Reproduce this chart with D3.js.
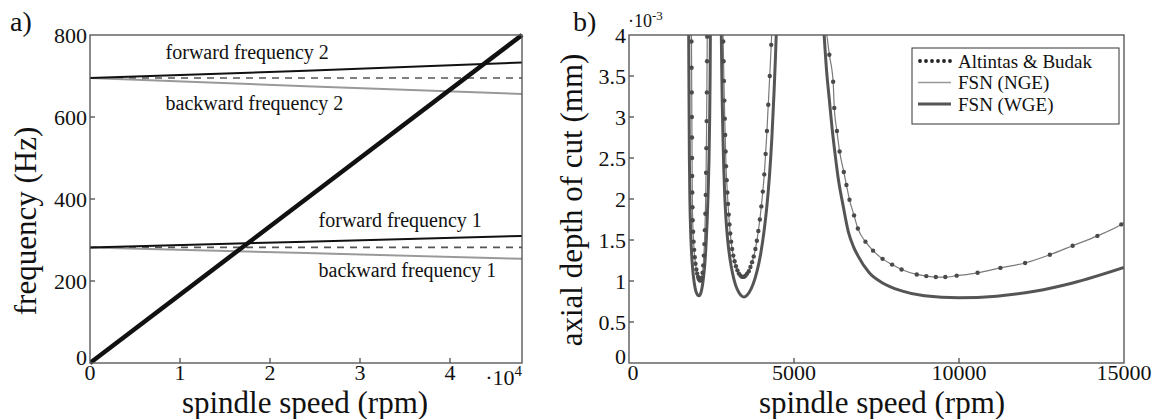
<!DOCTYPE html>
<html>
<head>
<meta charset="utf-8">
<script src="https://cdn.jsdelivr.net/npm/d3@7"></script>
<style>
  html, body { margin: 0; padding: 0; background: #fff; }
  svg { display: block; }
</style>
</head>
<body>
<svg id="chart" width="1153" height="419" font-family="'Liberation Serif', 'Times New Roman', Tinos, 'DejaVu Serif', serif"></svg>
<script>
// ---------------- Panel a data ----------------
const aSpeedTicks = [0, 10000, 20000, 30000, 40000];
const aSpeedTickLabels = ["0", "1", "2", "3", "4"];
const aFreqTicks = [0, 200, 400, 600, 800];
const syncSpeed = [0, 48000];
const syncFreq = [0, 800];
const modeSpeed = [0, 24000, 48000];
const forward2 = [695, 713, 733];
const backward2 = [695, 675, 656];
const nominal2 = [695, 695, 695];
const forward1 = [282, 296, 310];
const backward1 = [282, 268, 254];
const nominal1 = [282, 282, 282];
const modeLabels = ["forward frequency 2", "backward frequency 2", "forward frequency 1", "backward frequency 1"];
const modeLabelSpeed = [8400, 8400, 25400, 25400];
const modeLabelFreq = [741, 617, 332, 210];

// ---------------- Panel b data ----------------
const bSpeedTicks = [0, 5000, 10000, 15000];
const bDepthTicks = [0, 0.5, 1, 1.5, 2, 2.5, 3, 3.5, 4];
const bDepthTickLabels = ["0", "0.5", "1", "1.5", "2", "2.5", "3", "3.5", "4"];
// Altintas & Budak (markers); FSN (NGE) runs through the same points. depth in 1e-3 mm
const abLobe1Speed = [1880,1893,1897,1901,1905,1908,1911,1914,1917,1922,1930,1942,1957,1974,1993,2015,2040,2066,2093,2121,2150,2178,2205,2230,2250,2268,2285,2300,2314,2326,2336,2345,2353,2360,2366,2371];
const abLobe1Depth = [4.1,3.92,3.6,3.3,3.0,2.75,2.5,2.28,2.08,1.9,1.74,1.6,1.48,1.38,1.29,1.21,1.14,1.09,1.05,1.02,1.005,1.01,1.04,1.1,1.19,1.31,1.45,1.62,1.82,2.05,2.32,2.62,2.95,3.3,3.68,3.98];
const abLobe2Speed = [2845,2854,2866,2877,2889,2902,2915,2927,2939,2960,2980,3000,3022,3044,3068,3095,3125,3160,3200,3240,3285,3330,3380,3430,3480,3530,3580,3630,3680,3730,3780,3830,3875,3920,3965,4010,4055,4100,4140,4180,4220,4265,4310,4325];
const abLobe2Depth = [4.1,3.92,3.68,3.44,3.2,2.98,2.78,2.58,2.4,2.23,2.08,1.94,1.81,1.69,1.58,1.48,1.39,1.31,1.24,1.18,1.13,1.09,1.065,1.05,1.05,1.065,1.09,1.12,1.17,1.23,1.3,1.39,1.49,1.61,1.75,1.91,2.09,2.3,2.55,2.83,3.15,3.5,3.88,4.02];
const abLobe3Speed = [5980,6071,6186,6221,6301,6382,6509,6589,6682,6820,6935,7165,7396,7684,7972,8260,8721,9009,9297,9585,9930,10564,11255,12004,12753,13444,14193,14918];
const abLobe3Depth = [4.05,3.76,3.43,3.11,2.83,2.58,2.33,2.17,1.99,1.8,1.64,1.48,1.37,1.27,1.2,1.14,1.08,1.06,1.048,1.048,1.065,1.1,1.16,1.22,1.32,1.43,1.55,1.69];
const ngeLobe3EndSpeed = 15000;
const ngeLobe3EndDepth = 1.71;
// FSN (WGE)
const wgeLobe1Speed = [1808,1815,1822,1830,1845,1865,1895,1935,1980,2030,2080,2121,2165,2215,2260,2300,2335,2370,2400,2425,2445,2458,2467];
const wgeLobe1Depth = [4.1,3.5,3.0,2.5,2.0,1.65,1.35,1.12,0.97,0.87,0.83,0.82,0.84,0.92,1.05,1.22,1.45,1.75,2.1,2.5,3.0,3.5,4.1];
const wgeLobe2Speed = [2795,2810,2825,2845,2870,2900,2940,2990,3060,3140,3230,3330,3420,3475,3540,3640,3760,3880,3990,4090,4180,4260,4330,4395,4440,4470];
const wgeLobe2Depth = [4.1,3.6,3.2,2.8,2.4,2.05,1.75,1.5,1.27,1.09,0.95,0.86,0.815,0.805,0.815,0.86,0.96,1.12,1.33,1.6,1.92,2.3,2.75,3.3,3.75,4.1];
const wgeLobe3Speed = [5905,5990,6071,6150,6244,6359,6474,6647,6800,6935,7281,7684,8260,8951,9988,11140,12292,13444,15000];
const wgeLobe3Depth = [4.05,3.55,3.21,2.88,2.55,2.2,1.95,1.6,1.42,1.31,1.1,0.976,0.88,0.82,0.795,0.815,0.875,0.976,1.165];
const legendLabels = ["Altintas & Budak", "FSN (NGE)", "FSN (WGE)"];

// ---------------- drawing ----------------
const svg = d3.select("#chart");
const axisColor = "#5a5a5a";
const tickFont = 22;
const titleFont = 31;
const txtColor = "#111";

const pa = {l: 90, r: 522, t: 35, b: 363};
const pb = {l: 629, r: 1124, t: 35, b: 363};

function frame(p) {
  svg.append("rect").attr("x", p.l).attr("y", p.t).attr("width", p.r - p.l).attr("height", p.b - p.t)
    .attr("fill", "none").attr("stroke", axisColor).attr("stroke-width", 1.4);
}
function txt(g, x, y, s, size, anchor) {
  return g.append("text").attr("x", x).attr("y", y).attr("font-size", size)
    .attr("text-anchor", anchor || "start").attr("fill", txtColor).text(s);
}
function series(xs, ys) { return xs.map((x, i) => [x, ys[i]]); }

// ===== Panel a =====
const xa = d3.scaleLinear().domain([0, 48000]).range([pa.l, pa.r]);
const ya = d3.scaleLinear().domain([0, 800]).range([pa.b, pa.t]);
svg.append("clipPath").attr("id", "clipA").append("rect")
  .attr("x", pa.l).attr("y", pa.t - 2).attr("width", pa.r - pa.l + 2).attr("height", pa.b - pa.t + 4);
const ga = svg.append("g").attr("clip-path", "url(#clipA)");
const lineA = d3.line().x(d => xa(d[0])).y(d => ya(d[1]));

[nominal2, nominal1].forEach(v => ga.append("path").datum(series(modeSpeed, v)).attr("d", lineA)
  .attr("fill", "none").attr("stroke", "#555").attr("stroke-width", 1.6).attr("stroke-dasharray", "7,6"));
[backward2, backward1].forEach(v => ga.append("path").datum(series(modeSpeed, v)).attr("d", lineA)
  .attr("fill", "none").attr("stroke", "#999").attr("stroke-width", 2));
[forward2, forward1].forEach(v => ga.append("path").datum(series(modeSpeed, v)).attr("d", lineA)
  .attr("fill", "none").attr("stroke", "#111").attr("stroke-width", 2));
ga.append("path").datum(series(syncSpeed, syncFreq)).attr("d", lineA).attr("fill", "none")
  .attr("stroke", "#111").attr("stroke-width", 4.5);

modeLabels.forEach((t, i) => txt(svg, xa(modeLabelSpeed[i]), ya(modeLabelFreq[i]), t, 20));

frame(pa);
const axA = svg.append("g");
aSpeedTicks.forEach((v, i) => {
  if (i > 0) axA.append("line").attr("x1", xa(v)).attr("x2", xa(v)).attr("y1", pa.b).attr("y2", pa.b - 5)
    .attr("stroke", axisColor).attr("stroke-width", 1.4);
  txt(axA, xa(v), pa.b + 17, aSpeedTickLabels[i], tickFont, "middle");
});
aFreqTicks.forEach((v, i) => {
  if (i > 0 && i < aFreqTicks.length - 1) axA.append("line").attr("x1", pa.l).attr("x2", pa.l + 5)
    .attr("y1", ya(v)).attr("y2", ya(v)).attr("stroke", axisColor).attr("stroke-width", 1.4);
  txt(axA, pa.l - 3, i === 0 ? ya(v) + 2 : ya(v) + 8, String(v), tickFont, "end");
});
const expA = txt(svg, pa.r, pa.b + 22, "", tickFont, "end");
expA.append("tspan").text("·10");
expA.append("tspan").attr("dy", -9).attr("font-size", 15).text("4");

txt(svg, 305, 413, "spindle speed (rpm)", titleFont, "middle");
svg.append("text").attr("transform", "translate(36,221) rotate(-90)").attr("text-anchor", "middle")
  .attr("font-size", titleFont).attr("fill", txtColor).text("frequency (Hz)");
txt(svg, 10, 31, "a)", 28);

// ===== Panel b =====
const xb = d3.scaleLinear().domain([0, 15000]).range([pb.l, pb.r]);
const yb = d3.scaleLinear().domain([0, 4]).range([pb.b, pb.t]);
svg.append("clipPath").attr("id", "clipB").append("rect")
  .attr("x", pb.l).attr("y", pb.t).attr("width", pb.r - pb.l).attr("height", pb.b - pb.t);
const gb = svg.append("g").attr("clip-path", "url(#clipB)");
const lineB = d3.line().x(d => xb(d[0])).y(d => yb(d[1])).curve(d3.curveMonotoneX);

const wge = [series(wgeLobe1Speed, wgeLobe1Depth), series(wgeLobe2Speed, wgeLobe2Depth), series(wgeLobe3Speed, wgeLobe3Depth)];
const ab = [series(abLobe1Speed, abLobe1Depth), series(abLobe2Speed, abLobe2Depth), series(abLobe3Speed, abLobe3Depth)];
const nge = [ab[0], ab[1], ab[2].concat([[ngeLobe3EndSpeed, ngeLobe3EndDepth]])];

wge.forEach(s => gb.append("path").datum(s).attr("d", lineB).attr("fill", "none")
  .attr("stroke", "#555").attr("stroke-width", 3));
nge.forEach(s => gb.append("path").datum(s).attr("d", lineB).attr("fill", "none")
  .attr("stroke", "#7a7a7a").attr("stroke-width", 1.2));
ab.forEach(s => gb.selectAll(null).data(s.filter(d => d[1] <= 3.98)).enter().append("circle")
  .attr("cx", d => xb(d[0])).attr("cy", d => yb(d[1])).attr("r", 2.2).attr("fill", "#4a4a4a"));

frame(pb);
const axB = svg.append("g");
bSpeedTicks.forEach((v, i) => {
  if (i > 0 && i < bSpeedTicks.length - 1) axB.append("line").attr("x1", xb(v)).attr("x2", xb(v))
    .attr("y1", pb.b).attr("y2", pb.b - 5).attr("stroke", axisColor).attr("stroke-width", 1.4);
  txt(axB, i === 0 ? xb(v) + 4 : xb(v), pb.b + 17, String(v), tickFont, "middle");
});
bDepthTicks.forEach((v, i) => {
  if (i > 0 && i < bDepthTicks.length - 1) axB.append("line").attr("x1", pb.l).attr("x2", pb.l + 5)
    .attr("y1", yb(v)).attr("y2", yb(v)).attr("stroke", axisColor).attr("stroke-width", 1.4);
  txt(axB, pb.l - 3, i === 0 ? yb(v) + 1 : yb(v) + 8, bDepthTickLabels[i], tickFont, "end");
});
const expB = txt(svg, pb.l - 1, 27, "", 18);
expB.append("tspan").text("·10");
expB.append("tspan").attr("dy", -7).attr("font-size", 13).text("-3");

txt(svg, 882, 413, "spindle speed (rpm)", titleFont, "middle");
svg.append("text").attr("transform", "translate(582,200) rotate(-90)").attr("text-anchor", "middle")
  .attr("font-size", titleFont).attr("fill", txtColor).text("axial depth of cut (mm)");
txt(svg, 573, 31, "b)", 28);

// legend
const lg = svg.append("g");
const lx = 912, ly = 48, lw = 207, lh = 76;
lg.append("rect").attr("x", lx).attr("y", ly).attr("width", lw).attr("height", lh)
  .attr("fill", "#fff").attr("stroke", "#333").attr("stroke-width", 1);
const rowsY = [ly + 13, ly + 34.5, ly + 56];
lg.selectAll(null).data(d3.range(6)).enter().append("circle")
  .attr("cx", d => lx + 8 + d * 6).attr("cy", rowsY[0]).attr("r", 1.9).attr("fill", "#222");
lg.append("line").attr("x1", lx + 6).attr("x2", lx + 39).attr("y1", rowsY[1]).attr("y2", rowsY[1])
  .attr("stroke", "#999").attr("stroke-width", 1.3);
lg.append("line").attr("x1", lx + 6).attr("x2", lx + 39).attr("y1", rowsY[2]).attr("y2", rowsY[2])
  .attr("stroke", "#555").attr("stroke-width", 3);
legendLabels.forEach((t, i) => txt(lg, lx + 46, rowsY[i] + 6.5, t, 19));
</script>
</body>
</html>
